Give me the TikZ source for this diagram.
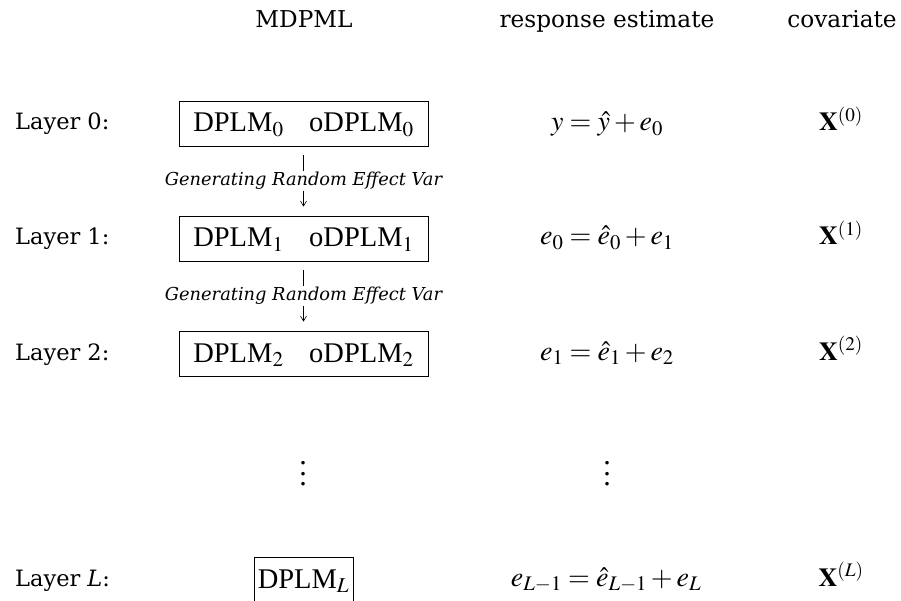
\documentclass[tikz,border=0pt]{standalone}
\usepackage{mathptmx}
\usepackage{fontspec}
\setmainfont{Liberation Serif}
\newfontfamily\labelfont{DejaVu Serif}
\usetikzlibrary{arrows.meta}
\newcommand{\mydots}{\vbox{\baselineskip=10.5pt\lineskiplimit=0pt\hbox{.}\hbox{.}\hbox{.}}}
\begin{document}
\begin{tikzpicture}[x=1pt,y=-1pt,
  hdr/.style={font=\labelfont\fontsize{23.2}{28}\selectfont, inner sep=0pt, anchor=base},
  lbl/.style={font=\labelfont\fontsize{22.5}{28}\selectfont, inner sep=0pt, anchor=base west},
  eqn/.style={font=\fontsize{28}{33}\selectfont, inner sep=0pt, anchor=base},
  cov/.style={font=\fontsize{26}{31}\selectfont, inner sep=0pt, anchor=base},
  modbox/.style={draw, line width=0.8pt, font=\fontsize{28.5}{33}\selectfont,
    inner xsep=0pt, inner ysep=0pt, text height=21pt, text depth=4pt,
    minimum height=45pt},
  gen/.style={font=\labelfont\itshape\fontsize{17.8}{22}\selectfont, fill=white, inner sep=1pt},
  link/.style={line width=0.6pt, -{Straight Barb[length=5pt,width=6pt]},
    shorten <=9pt, shorten >=9pt},
  dotsnode/.style={font=\fontsize{30}{34}\selectfont, inner sep=0pt}]
\useasboundingbox (0,0) rectangle (901,601);

% headers
\node[hdr] (h1) at (304,28) {MDPML};
\node[hdr] (h2) at (607,28) {response estimate};
\node[hdr] (h3) at (842,28) {covariate};

% layer labels
\node[lbl] (l0) at (15,130) {Layer 0:};
\node[lbl] (l1) at (15,245) {Layer 1:};
\node[lbl] (l2) at (15,360) {Layer 2:};
\node[lbl] (lL) at (15,586) {Layer \textit{L}:};

% model boxes
\node[modbox, minimum width=249pt] (b0) at (303.5,123.5) {DPLM$_0$\hspace{0.9em}oDPLM$_0$};
\node[modbox, minimum width=249pt] (b1) at (303.5,238.5) {DPLM$_1$\hspace{0.9em}oDPLM$_1$};
\node[modbox, minimum width=249pt] (b2) at (303.5,353.5) {DPLM$_2$\hspace{0.9em}oDPLM$_2$};
\node[modbox, minimum width=99pt] (bL) at (303.5,579.5) {DPLM$_L$};

\draw[link] (b0) -- node[gen] (g0) {Generating Random Effect Var} (b1);
\draw[link] (b1) -- node[gen] (g1) {Generating Random Effect Var} (b2);

% response estimates
\node[eqn] (r0) at (607,131) {$y=\hat{y}+e_0$};
\node[eqn] (r1) at (607,245) {$e_0=\hat{e}_0+e_1$};
\node[eqn] (r2) at (607,360) {$e_1=\hat{e}_1+e_2$};
\node[eqn] (rL) at (606,586) {$e_{L-1}=\hat{e}_{L-1}+e_L$};

% covariates
\node[cov] (c0) at (841,131) {$\mathbf{X}^{(0)}$};
\node[cov] (c1) at (841,245) {$\mathbf{X}^{(1)}$};
\node[cov] (c2) at (841,360) {$\mathbf{X}^{(2)}$};
\node[cov] (cL) at (841,586) {$\mathbf{X}^{(L)}$};

% dots
\node[dotsnode] (d1) at (303,474) {\mydots};
\node[dotsnode] (d2) at (607,474) {\mydots};
\end{tikzpicture}
\end{document}
